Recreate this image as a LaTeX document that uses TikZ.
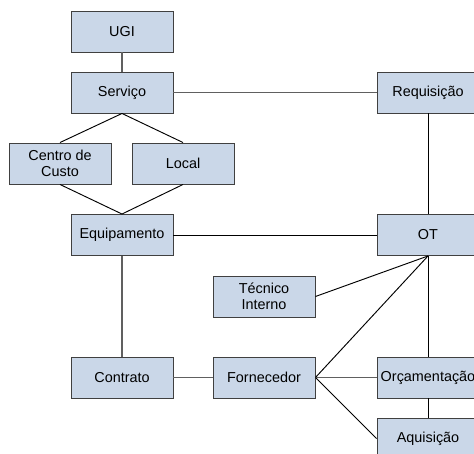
\documentclass[tikz,border=0pt]{standalone}
\usepackage{fontspec}
\setmainfont{Liberation Sans}
\definecolor{boxfill}{RGB}{202,215,232}
\definecolor{boxline}{RGB}{64,64,64}

\begin{document}
\begin{tikzpicture}[x=0.03cm, y=-0.03cm,
    entity/.style={rectangle, draw=boxline, fill=boxfill, line width=0.8pt,
        minimum width=3.06cm, minimum height=1.23cm, align=center,
        inner sep=1pt, font=\fontsize{12.3}{14}\selectfont},
    thick link/.style={draw=gray!75!black, line width=1.5pt},
    thin link/.style={draw=black, line width=0.8pt}]
    \useasboundingbox (0,0) rectangle (474,454);
    \node[entity] (ugi) at (122,31.5) {UGI};
    \node[entity] (serv) at (122,92.5) {Serviço};
    \node[entity] (cc) at (60,163.5) {Centro de\\Custo};
    \node[entity] (local) at (183,163.5) {Local};
    \node[entity] (equip) at (122,235) {Equipamento};
    \node[entity] (req) at (428,92.5) {Requisição};
    \node[entity] (ot) at (428,235) {OT};
    \node[entity] (tec) at (264,296.5) {Técnico\\Interno};
    \node[entity] (contr) at (122,377.5) {Contrato};
    \node[entity] (forn) at (264,377.5) {Fornecedor};
    \node[entity] (orc) at (428,377.5) {Orçamentação};
    \node[entity] (aq) at (428,438.5) {Aquisição};

    % ligacoes
    \draw[thick link] (ugi) -- (serv);
    \draw[thick link] (serv) -- (req);
    \draw[thin link] (serv.south) -- (cc.north);
    \draw[thin link] (serv.south) -- (local.north);
    \draw[thin link] (cc.south) -- (equip.north);
    \draw[thin link] (local.south) -- (equip.north);
    \draw[thin link] (equip) -- (ot);
    \draw[thin link] (req) -- (ot);
    \draw[thick link] (equip) -- (contr);
    \draw[thick link] (contr) -- (forn);
    \draw[thin link] (tec.east) -- (ot.south);
    \draw[thin link] (forn.east) -- (ot.south);
    \draw[thick link] (forn) -- (orc);
    \draw[thin link] (forn.east) -- (aq.west);
    \draw[thin link] (ot) -- (orc);
    \draw[thin link] (orc) -- (aq);
\end{tikzpicture}
\end{document}
